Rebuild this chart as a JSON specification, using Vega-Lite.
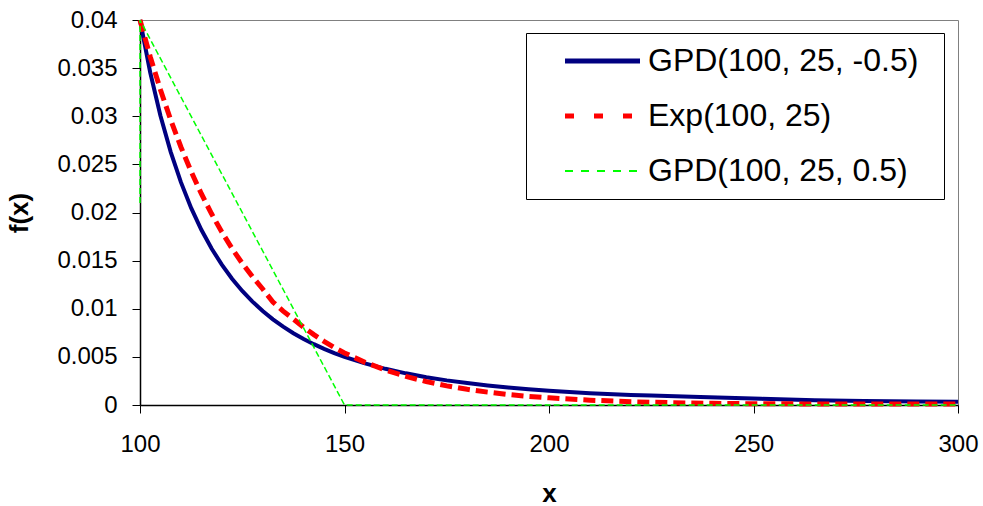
{
  "$schema": "https://vega.github.io/schema/vega-lite/v6.json",
  "width": 818,
  "height": 385,
  "autosize": {"type": "none"},
  "padding": {"left": 140, "top": 20, "right": 25, "bottom": 101},
  "background": "white",
  "config": {
    "view": {"stroke": "#808080", "strokeWidth": 1},
    "font": "Liberation Sans",
    "axis": {"grid": false, "domainColor": "black", "tickColor": "black", "labelColor": "black", "titleColor": "black", "labelFont": "Liberation Sans", "titleFont": "Liberation Sans"}
  },
  "data": {
    "values": [
      {"s": "GPD(100, 25, -0.5)", "i": 1, "x": 100, "y": 0.04},
      {"s": "GPD(100, 25, -0.5)", "i": 2, "x": 102.5, "y": 0.03455},
      {"s": "GPD(100, 25, -0.5)", "i": 3, "x": 105, "y": 0.03005},
      {"s": "GPD(100, 25, -0.5)", "i": 4, "x": 107.5, "y": 0.0263},
      {"s": "GPD(100, 25, -0.5)", "i": 5, "x": 110, "y": 0.02315},
      {"s": "GPD(100, 25, -0.5)", "i": 6, "x": 112.5, "y": 0.02048},
      {"s": "GPD(100, 25, -0.5)", "i": 7, "x": 115, "y": 0.01821},
      {"s": "GPD(100, 25, -0.5)", "i": 8, "x": 117.5, "y": 0.01626},
      {"s": "GPD(100, 25, -0.5)", "i": 9, "x": 120, "y": 0.01458},
      {"s": "GPD(100, 25, -0.5)", "i": 10, "x": 122.5, "y": 0.01312},
      {"s": "GPD(100, 25, -0.5)", "i": 11, "x": 125, "y": 0.01185},
      {"s": "GPD(100, 25, -0.5)", "i": 12, "x": 127.5, "y": 0.01074},
      {"s": "GPD(100, 25, -0.5)", "i": 13, "x": 130, "y": 0.00977},
      {"s": "GPD(100, 25, -0.5)", "i": 14, "x": 132.5, "y": 0.0089},
      {"s": "GPD(100, 25, -0.5)", "i": 15, "x": 135, "y": 0.00814},
      {"s": "GPD(100, 25, -0.5)", "i": 16, "x": 137.5, "y": 0.00746},
      {"s": "GPD(100, 25, -0.5)", "i": 17, "x": 140, "y": 0.00686},
      {"s": "GPD(100, 25, -0.5)", "i": 18, "x": 142.5, "y": 0.00632},
      {"s": "GPD(100, 25, -0.5)", "i": 19, "x": 145, "y": 0.00583},
      {"s": "GPD(100, 25, -0.5)", "i": 20, "x": 147.5, "y": 0.0054},
      {"s": "GPD(100, 25, -0.5)", "i": 21, "x": 150, "y": 0.005},
      {"s": "GPD(100, 25, -0.5)", "i": 22, "x": 155, "y": 0.00432},
      {"s": "GPD(100, 25, -0.5)", "i": 23, "x": 160, "y": 0.00376},
      {"s": "GPD(100, 25, -0.5)", "i": 24, "x": 165, "y": 0.00329},
      {"s": "GPD(100, 25, -0.5)", "i": 25, "x": 170, "y": 0.00289},
      {"s": "GPD(100, 25, -0.5)", "i": 26, "x": 175, "y": 0.00256},
      {"s": "GPD(100, 25, -0.5)", "i": 27, "x": 180, "y": 0.00228},
      {"s": "GPD(100, 25, -0.5)", "i": 28, "x": 185, "y": 0.00203},
      {"s": "GPD(100, 25, -0.5)", "i": 29, "x": 190, "y": 0.00182},
      {"s": "GPD(100, 25, -0.5)", "i": 30, "x": 195, "y": 0.00164},
      {"s": "GPD(100, 25, -0.5)", "i": 31, "x": 200, "y": 0.00148},
      {"s": "GPD(100, 25, -0.5)", "i": 32, "x": 210, "y": 0.00122},
      {"s": "GPD(100, 25, -0.5)", "i": 33, "x": 220, "y": 0.00104},
      {"s": "GPD(100, 25, -0.5)", "i": 34, "x": 225, "y": 0.00098},
      {"s": "GPD(100, 25, -0.5)", "i": 35, "x": 237, "y": 0.00082},
      {"s": "GPD(100, 25, -0.5)", "i": 36, "x": 252, "y": 0.00064},
      {"s": "GPD(100, 25, -0.5)", "i": 37, "x": 265, "y": 0.0005},
      {"s": "GPD(100, 25, -0.5)", "i": 38, "x": 277, "y": 0.00042},
      {"s": "GPD(100, 25, -0.5)", "i": 39, "x": 290, "y": 0.00036},
      {"s": "GPD(100, 25, -0.5)", "i": 40, "x": 300, "y": 0.00034},

      {"s": "Exp(100, 25)", "i": 1, "x": 100, "y": 0.04},
      {"s": "Exp(100, 25)", "i": 2, "x": 102.5, "y": 0.03619},
      {"s": "Exp(100, 25)", "i": 3, "x": 105, "y": 0.03275},
      {"s": "Exp(100, 25)", "i": 4, "x": 107.5, "y": 0.02963},
      {"s": "Exp(100, 25)", "i": 5, "x": 110, "y": 0.02681},
      {"s": "Exp(100, 25)", "i": 6, "x": 112.5, "y": 0.02426},
      {"s": "Exp(100, 25)", "i": 7, "x": 115, "y": 0.02195},
      {"s": "Exp(100, 25)", "i": 8, "x": 117.5, "y": 0.01986},
      {"s": "Exp(100, 25)", "i": 9, "x": 120, "y": 0.01797},
      {"s": "Exp(100, 25)", "i": 10, "x": 122.5, "y": 0.01626},
      {"s": "Exp(100, 25)", "i": 11, "x": 125, "y": 0.01472},
      {"s": "Exp(100, 25)", "i": 12, "x": 127.5, "y": 0.01332},
      {"s": "Exp(100, 25)", "i": 13, "x": 130, "y": 0.01205},
      {"s": "Exp(100, 25)", "i": 14, "x": 132.5, "y": 0.0107},
      {"s": "Exp(100, 25)", "i": 15, "x": 135, "y": 0.00975},
      {"s": "Exp(100, 25)", "i": 16, "x": 137.5, "y": 0.00893},
      {"s": "Exp(100, 25)", "i": 17, "x": 140, "y": 0.00808},
      {"s": "Exp(100, 25)", "i": 18, "x": 142.5, "y": 0.00731},
      {"s": "Exp(100, 25)", "i": 19, "x": 145, "y": 0.00661},
      {"s": "Exp(100, 25)", "i": 20, "x": 147.5, "y": 0.00598},
      {"s": "Exp(100, 25)", "i": 21, "x": 150, "y": 0.00541},
      {"s": "Exp(100, 25)", "i": 22, "x": 155, "y": 0.00443},
      {"s": "Exp(100, 25)", "i": 23, "x": 160, "y": 0.00363},
      {"s": "Exp(100, 25)", "i": 24, "x": 165, "y": 0.00297},
      {"s": "Exp(100, 25)", "i": 25, "x": 170, "y": 0.00243},
      {"s": "Exp(100, 25)", "i": 26, "x": 175, "y": 0.00199},
      {"s": "Exp(100, 25)", "i": 27, "x": 180, "y": 0.00163},
      {"s": "Exp(100, 25)", "i": 28, "x": 185, "y": 0.00134},
      {"s": "Exp(100, 25)", "i": 29, "x": 190, "y": 0.00109},
      {"s": "Exp(100, 25)", "i": 30, "x": 195, "y": 0.0009},
      {"s": "Exp(100, 25)", "i": 31, "x": 200, "y": 0.00075},
      {"s": "Exp(100, 25)", "i": 32, "x": 210, "y": 0.0005},
      {"s": "Exp(100, 25)", "i": 33, "x": 220, "y": 0.00034},
      {"s": "Exp(100, 25)", "i": 34, "x": 230, "y": 0.00024},
      {"s": "Exp(100, 25)", "i": 35, "x": 240, "y": 0.00017},
      {"s": "Exp(100, 25)", "i": 36, "x": 250, "y": 0.00013},
      {"s": "Exp(100, 25)", "i": 37, "x": 275, "y": 0.0001},
      {"s": "Exp(100, 25)", "i": 38, "x": 300, "y": 0.0001},

      {"s": "GPD(100, 25, 0.5)", "i": 0, "x": 100, "y": 0.021},
      {"s": "GPD(100, 25, 0.5)", "i": 1, "x": 100, "y": 0.04},
      {"s": "GPD(100, 25, 0.5)", "i": 2, "x": 150, "y": 0},
      {"s": "GPD(100, 25, 0.5)", "i": 3, "x": 300, "y": 0}
    ]
  },
  "encoding": {
    "x": {
      "field": "x", "type": "quantitative",
      "scale": {"domain": [100, 300], "nice": false},
      "axis": {"values": [100, 150, 200, 250, 300], "title": "x", "labelFontSize": 24, "titleFontSize": 26, "titleFontWeight": "bold", "tickSize": 8, "labelPadding": 19, "titlePadding": 24, "domainWidth": 1.5, "labelFlush": false}
    },
    "y": {
      "field": "y", "type": "quantitative",
      "scale": {"domain": [0, 0.04], "nice": false},
      "axis": {"values": [0, 0.005, 0.01, 0.015, 0.02, 0.025, 0.03, 0.035, 0.04], "format": "~g", "title": "f(x)", "labelFontSize": 24, "titleFontSize": 26, "titleFontWeight": "bold", "tickSize": 8, "labelPadding": 15, "titlePadding": 24, "domainWidth": 1.5}
    },
    "color": {
      "field": "s", "type": "nominal",
      "scale": {"domain": ["GPD(100, 25, -0.5)", "Exp(100, 25)", "GPD(100, 25, 0.5)"], "range": ["#000080", "#FF0000", "#00FF00"]},
      "legend": {
        "title": " ", "titleOrient": "right", "titlePadding": 14, "titleFontSize": 32,
        "orient": "none", "legendX": 386, "legendY": 13,
        "symbolType": "stroke", "symbolSize": 5625,
        "labelFontSize": 32, "labelFont": "Liberation Sans", "labelColor": "black", "labelLimit": 500,
        "strokeColor": "black", "fillColor": "white", "padding": 12, "rowPadding": 23,
        "symbolOffset": 48.5, "labelOffset": 29.5,
        "encode": {
          "symbols": {
            "update": {
              "strokeDash": {"signal": "datum.value === 'Exp(100, 25)' ? [9, 20] : datum.value === 'GPD(100, 25, 0.5)' ? [8, 8] : [1, 0]"},
              "strokeWidth": {"signal": "datum.value === 'GPD(100, 25, 0.5)' ? 2 : 5"}
            }
          }
        }
      }
    },
    "order": {"field": "i", "type": "quantitative"}
  },
  "layer": [
    {"transform": [{"filter": "datum.s === 'GPD(100, 25, -0.5)'"}], "mark": {"type": "line", "strokeWidth": 4}},
    {"transform": [{"filter": "datum.s === 'Exp(100, 25)'"}], "mark": {"type": "line", "strokeWidth": 5, "strokeDash": [12, 6]}},
    {"transform": [{"filter": "datum.s === 'GPD(100, 25, 0.5)'"}], "mark": {"type": "line", "strokeWidth": 1.5, "strokeDash": [6, 3]}}
  ]
}
